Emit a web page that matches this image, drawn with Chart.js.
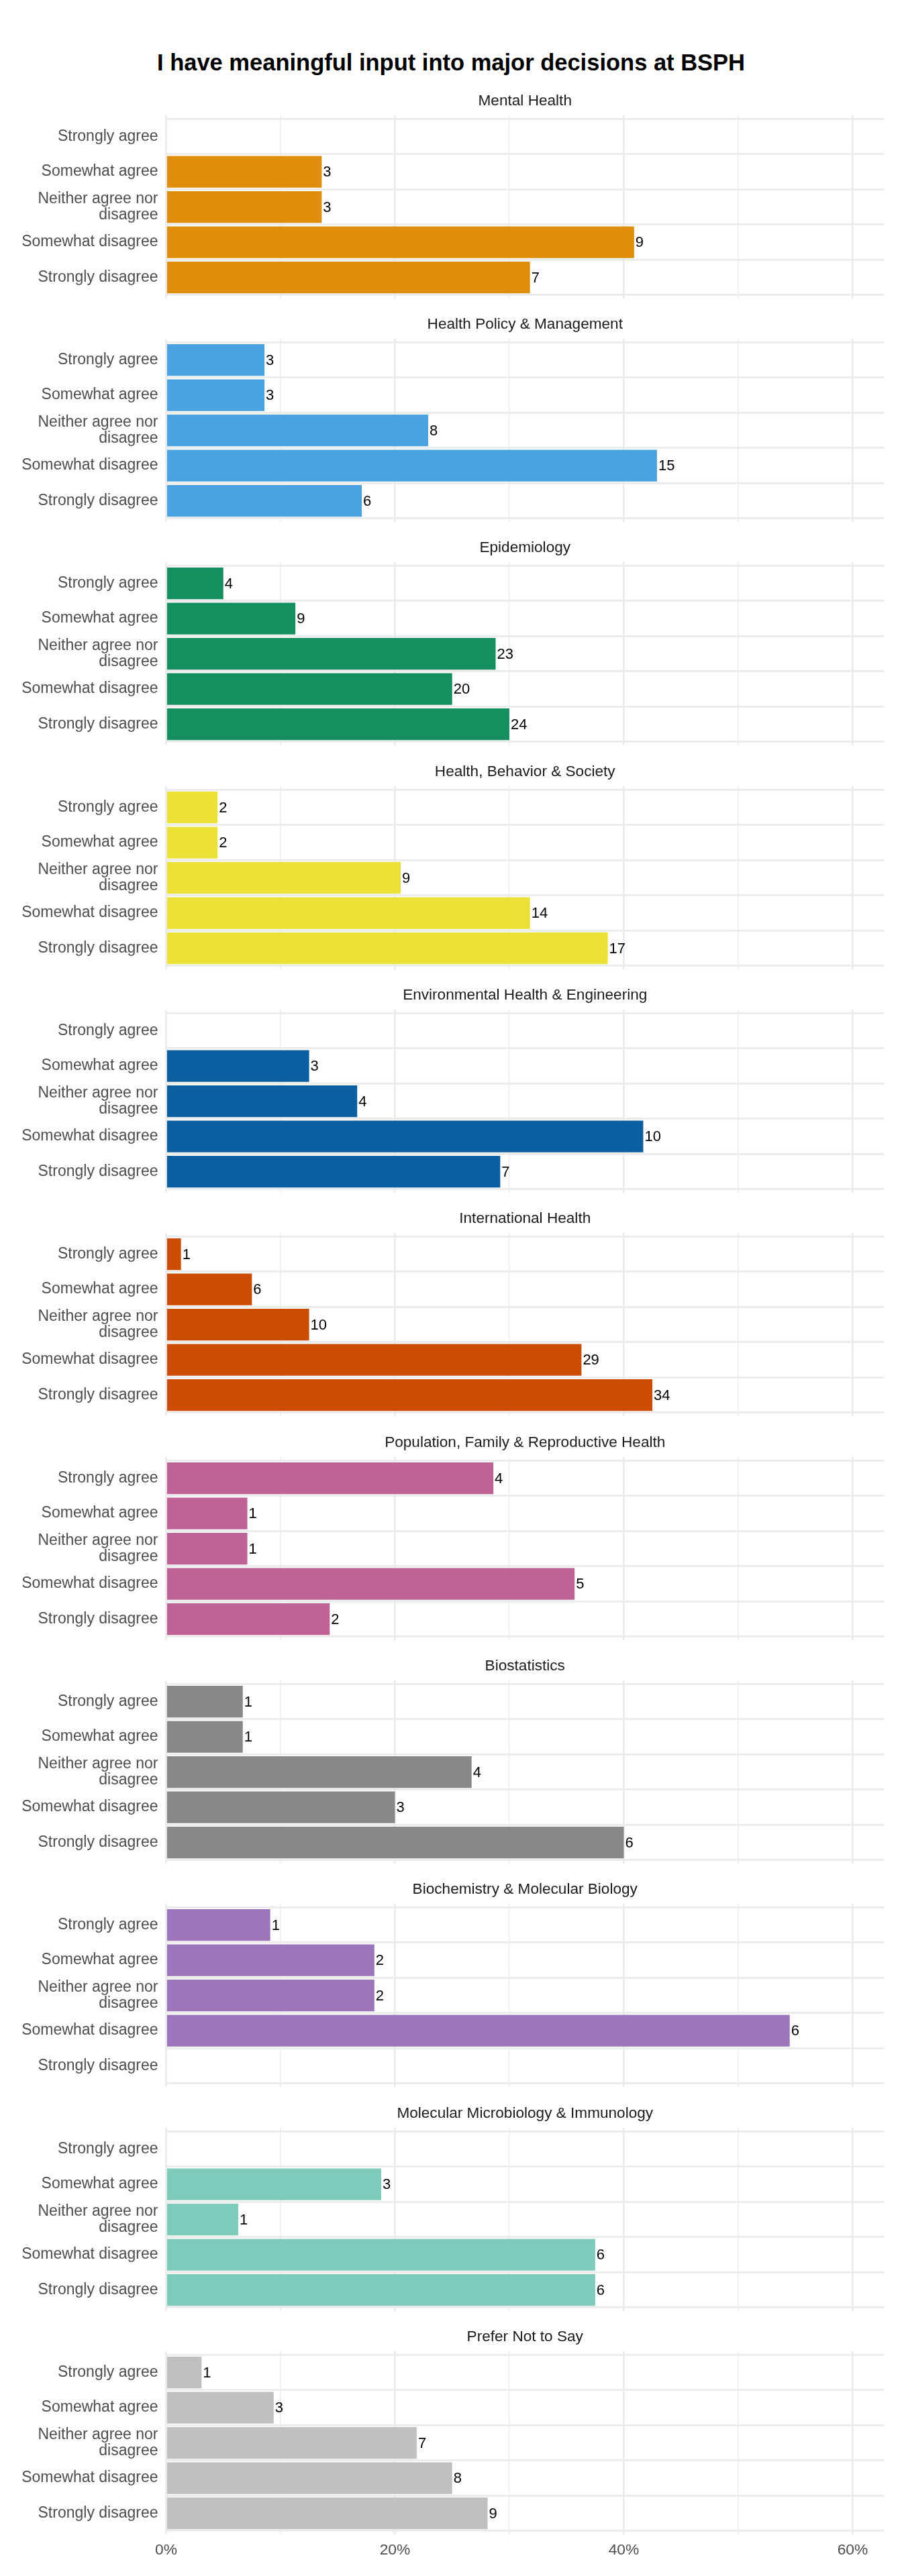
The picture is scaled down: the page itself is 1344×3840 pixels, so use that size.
<!DOCTYPE html>
<html>
<head>
<meta charset="utf-8">
<script src="https://cdn.jsdelivr.net/npm/chart.js@4/dist/chart.umd.min.js"></script>
<style>
  html, body { margin: 0; padding: 0; background: #ffffff; }
  body { width: 1344px; height: 3840px; position: relative; overflow: hidden; }
  #title { position: absolute; left: 0; width: 1344px; top: 73px; height: 40px; line-height: 40px;
           text-align: center; font-family: "Liberation Sans", Arial, sans-serif; font-weight: bold;
           font-size: 34.5px; color: #000; }
  .panel { position: absolute; left: 0; width: 1344px; }
</style>
</head>
<body>
<div id="title">I have meaningful input into major decisions at BSPH</div>
<script>
// ---- Data ----
const categories = ["Strongly agree", "Somewhat agree", "Neither agree nor disagree", "Somewhat disagree", "Strongly disagree"];
const categoryLines = [["Strongly agree"], ["Somewhat agree"], ["Neither agree nor", "disagree"], ["Somewhat disagree"], ["Strongly disagree"]];
const departments = [
  "Mental Health", "Health Policy & Management", "Epidemiology", "Health, Behavior & Society",
  "Environmental Health & Engineering", "International Health", "Population, Family & Reproductive Health",
  "Biostatistics", "Biochemistry & Molecular Biology", "Molecular Microbiology & Immunology", "Prefer Not to Say"
];
const departmentColors = ["#DF8E0B", "#4AA3E0", "#168F60", "#ECE136", "#0B5FA1", "#CC4C03",
                          "#BF6295", "#888888", "#9C75BB", "#7FCBBB", "#C0C0C0"];
const xTickValues = [0, 10, 20, 30, 40, 50, 60];

// percentage of respondents (bar length) and count (label), per department
const mentalHealthPct = [null, 13.6, 13.6, 40.9, 31.8];
const mentalHealthN   = [null, 3, 3, 9, 7];
const hpmPct = [8.6, 8.6, 22.9, 42.9, 17.1];
const hpmN   = [3, 3, 8, 15, 6];
const epiPct = [5.0, 11.3, 28.8, 25.0, 30.0];
const epiN   = [4, 9, 23, 20, 24];
const hbsPct = [4.5, 4.5, 20.5, 31.8, 38.6];
const hbsN   = [2, 2, 9, 14, 17];
const ehePct = [null, 12.5, 16.7, 41.7, 29.2];
const eheN   = [null, 3, 4, 10, 7];
const ihPct = [1.3, 7.5, 12.5, 36.3, 42.5];
const ihN   = [1, 6, 10, 29, 34];
const pfrhPct = [28.6, 7.1, 7.1, 35.7, 14.3];
const pfrhN   = [4, 1, 1, 5, 2];
const biostatPct = [6.7, 6.7, 26.7, 20.0, 40.0];
const biostatN   = [1, 1, 4, 3, 6];
const bmbPct = [9.1, 18.2, 18.2, 54.5, null];
const bmbN   = [1, 2, 2, 6, null];
const mmiPct = [null, 18.8, 6.3, 37.5, 37.5];
const mmiN   = [null, 3, 1, 6, 6];
const preferPct = [3.1, 9.4, 21.9, 25.0, 28.1];
const preferN   = [1, 3, 7, 8, 9];

const pctSeries = [mentalHealthPct, hpmPct, epiPct, hbsPct, ehePct, ihPct, pfrhPct, biostatPct, bmbPct, mmiPct, preferPct];
const countSeries = [mentalHealthN, hpmN, epiN, hbsN, eheN, ihN, pfrhN, biostatN, bmbN, mmiN, preferN];

// ---- Layout ----
const FONT = '"Liberation Sans", Arial, sans-serif';
const X_MAX = 62.73;
const PITCH = 333.33;
const FIRST_TITLE_Y = 150;
const PLOT_H = 273;
const HEAD = 50;       // title area above plot
const AXIS_H = 50;     // x-axis area on last panel

const valueLabels = {
  id: 'valueLabels',
  afterDatasetsDraw(chart) {
    const ctx = chart.ctx;
    const meta = chart.getDatasetMeta(0);
    const counts = chart.options.plugins.valueLabels.counts;
    ctx.save();
    ctx.font = '22px ' + FONT;
    ctx.fillStyle = '#000000';
    ctx.textAlign = 'left';
    ctx.textBaseline = 'middle';
    meta.data.forEach((el, i) => {
      if (counts[i] == null) return;
      ctx.fillText(String(counts[i]), el.x + 2, el.y + 1);
    });
    ctx.restore();
  }
};

departments.forEach((dept, p) => {
  const isLast = p === departments.length - 1;
  const titleY = FIRST_TITLE_Y + PITCH * p;
  const plotTop = titleY + 21.7;
  const h = HEAD + PLOT_H + (isLast ? AXIS_H : 0);
  const div = document.createElement('div');
  div.className = 'panel';
  div.style.top = (plotTop - HEAD) + 'px';
  div.style.height = h + 'px';
  const canvas = document.createElement('canvas');
  div.appendChild(canvas);
  document.body.appendChild(div);

  const data = pctSeries[p].map((v, i) => ({ x: v, y: i }));

  new Chart(canvas, {
    type: 'bar',
    data: {
      datasets: [{
        data: data,
        backgroundColor: departmentColors[p],
        borderWidth: 0,
        barPercentage: 0.9,
        categoryPercentage: 1.0
      }]
    },
    options: {
      indexAxis: 'y',
      responsive: true,
      maintainAspectRatio: false,
      animation: false,
      layout: { padding: { left: 0, right: 1344 - 1317, top: 0, bottom: 0 } },
      plugins: {
        legend: { display: false },
        tooltip: { enabled: false },
        title: {
          display: true,
          text: dept,
          fullSize: false,
          color: '#1A1A1A',
          font: { family: FONT, size: 22.6, weight: 'normal', lineHeight: 1.2 },
          padding: { top: 14.74, bottom: 8.14 }
        },
        valueLabels: { counts: countSeries[p] }
      },
      scales: {
        x: {
          type: 'linear',
          position: 'bottom',
          min: 0,
          max: X_MAX,
          offset: false,
          afterBuildTicks: (scale) => { scale.ticks = xTickValues.map(v => ({ value: v })); },
          afterFit: (scale) => {
            scale.height = isLast ? AXIS_H : 0;
            scale.paddingLeft = 0; scale.paddingRight = 0;
          },
          border: { display: false },
          grid: {
            color: '#EBEBEB',
            drawTicks: false,
            lineWidth: (ctx) => (ctx.tick && ctx.tick.value % 20 === 0) ? 2.7 : 1.4
          },
          ticks: {
            display: isLast,
            autoSkip: false,
            maxRotation: 0,
            padding: 10,
            color: '#4D4D4D',
            font: { family: FONT, size: 22.8 },
            callback: (v) => (v % 20 === 0 ? v + '%' : '')
          }
        },
        y: {
          type: 'linear',
          reverse: true,
          offset: false,
          min: -0.6,
          max: 4.6,
          afterBuildTicks: (scale) => { scale.ticks = categories.map((c, i) => ({ value: i })); },
          afterFit: (scale) => {
            scale.width = 247.5;
            scale.paddingTop = 0; scale.paddingBottom = 0;
          },
          border: { display: false },
          grid: { color: '#EBEBEB', lineWidth: 2.7, drawTicks: false },
          ticks: {
            autoSkip: false,
            padding: 12,
            color: '#4D4D4D',
            font: { family: FONT, size: 23, lineHeight: 1.07 },
            callback: (v) => categoryLines[v]
          }
        }
      }
    },
    plugins: [valueLabels]
  });
});
</script>
</body>
</html>
